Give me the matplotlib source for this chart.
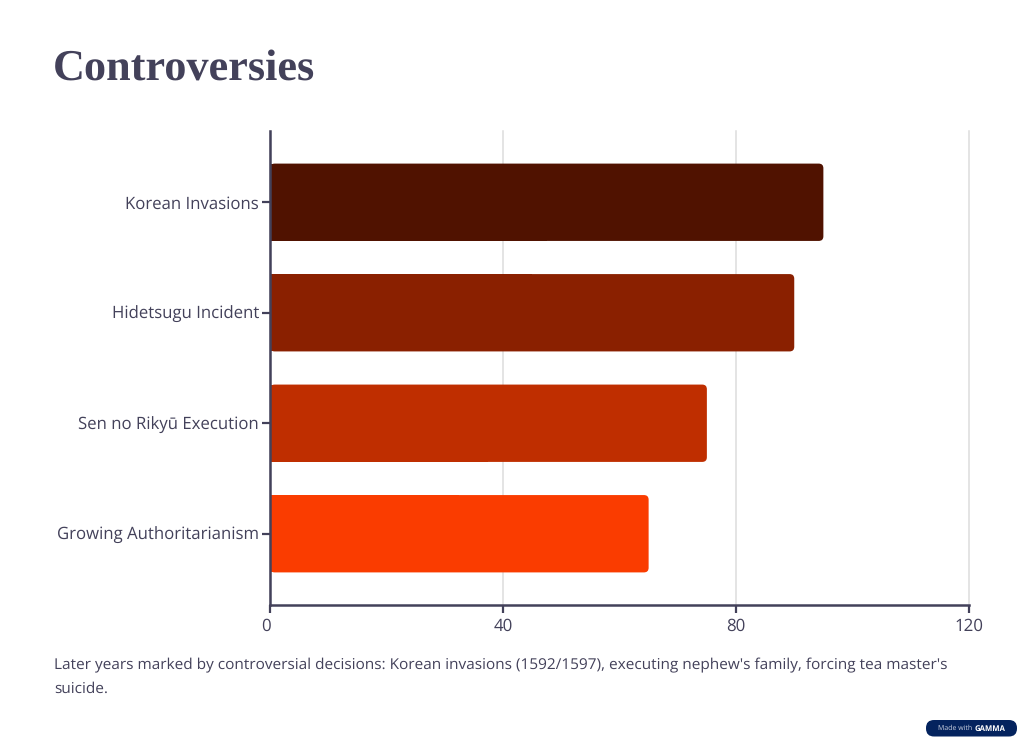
import matplotlib
matplotlib.use("Agg")
import matplotlib.pyplot as plt
from matplotlib.patches import FancyBboxPatch
from matplotlib.transforms import ScaledTranslation

W, H = 1024, 743

categories = ["Korean Invasions", "Hidetsugu Incident", "Sen no Rikyū Execution", "Growing Authoritarianism"]
values = [95, 90, 75, 65]
bar_colors = ["#501200", "#8A2000", "#BF2E00", "#FA3C00"]
x_ticks = [0, 40, 80, 120]
title = "Controversies"
caption = ("Later years marked by controversial decisions: Korean invasions (1592/1597), executing nephew's family, forcing tea master's\n"
           "suicide.")

INK = "#43415a"

plt.rcParams["font.family"] = ["Open Sans", "DejaVu Sans"]
plt.rcParams["text.hinting"] = "no_hinting"

fig = plt.figure(figsize=(W / 100, H / 100), dpi=100, facecolor="white")
ax = fig.add_axes([270 / W, 1 - 605 / H, (969 - 270) / W, (605 - 131) / H])

ax.set_xlim(0, 120)
ax.set_ylim(3.645, -0.645)
ax.set_axisbelow(True)
ax.grid(axis="x", color="#dddddd", linewidth=1.1, clip_on=False)

# rounded right corners only: rounded box underneath, square bar over the left half
aspect = (4.29 / 474) / (120 / 699)
for i, (v, c) in enumerate(zip(values, bar_colors)):
    ax.add_patch(FancyBboxPatch((0, i - 0.35), v, 0.70, boxstyle="round,pad=0,rounding_size=0.8",
                                mutation_aspect=aspect, facecolor=c, edgecolor="none", zorder=2))
    ax.barh(i, v / 2, height=0.70, color=c, zorder=2)

ax.set_yticks(range(len(categories)))
ax.set_yticklabels(categories)
ax.set_xticks(x_ticks)
ax.tick_params(axis="y", length=6, width=1.6, color=INK, labelcolor=INK, labelsize=12.1, pad=2)
ax.tick_params(axis="x", length=5.5, width=1.6, color=INK, labelcolor=INK, labelsize=12.2, pad=3.5)

# the 0 label sits a little left of its tick
zero = ax.get_xticklabels()[0]
zero.set_transform(zero.get_transform() + ScaledTranslation(-4.5 / 100, 0, fig.dpi_scale_trans))

for side in ["top", "right"]:
    ax.spines[side].set_visible(False)
for side in ["left", "bottom"]:
    ax.spines[side].set_color(INK)
    ax.spines[side].set_linewidth(1.8)
    ax.spines[side].set_zorder(5)

fig.text(53 / W, 1 - 80 / H, title, family="Liberation Serif", fontweight="bold", fontsize=31.85, color=INK)
fig.text(54 / W, 1 - 696 / H, caption, fontsize=11.1, color=INK, linespacing=1.7, va="bottom")

# gamma badge
overlay = fig.add_axes([0, 0, 1, 1], facecolor="none")
overlay.set_xlim(0, W)
overlay.set_ylim(H, 0)
overlay.axis("off")
overlay.add_patch(FancyBboxPatch((926, 720), 91, 16.5, boxstyle="round,pad=0,rounding_size=8",
                                 facecolor="#04235e", edgecolor="none"))
overlay.text(938, 728.5, "Made with", fontsize=5.0, color="#c9d0e0", va="center")
overlay.text(975, 728.5, "GAMMA", fontsize=5.6, fontweight="bold", color="white", va="center")

fig.savefig("out.png", dpi=100)
plt.close()
